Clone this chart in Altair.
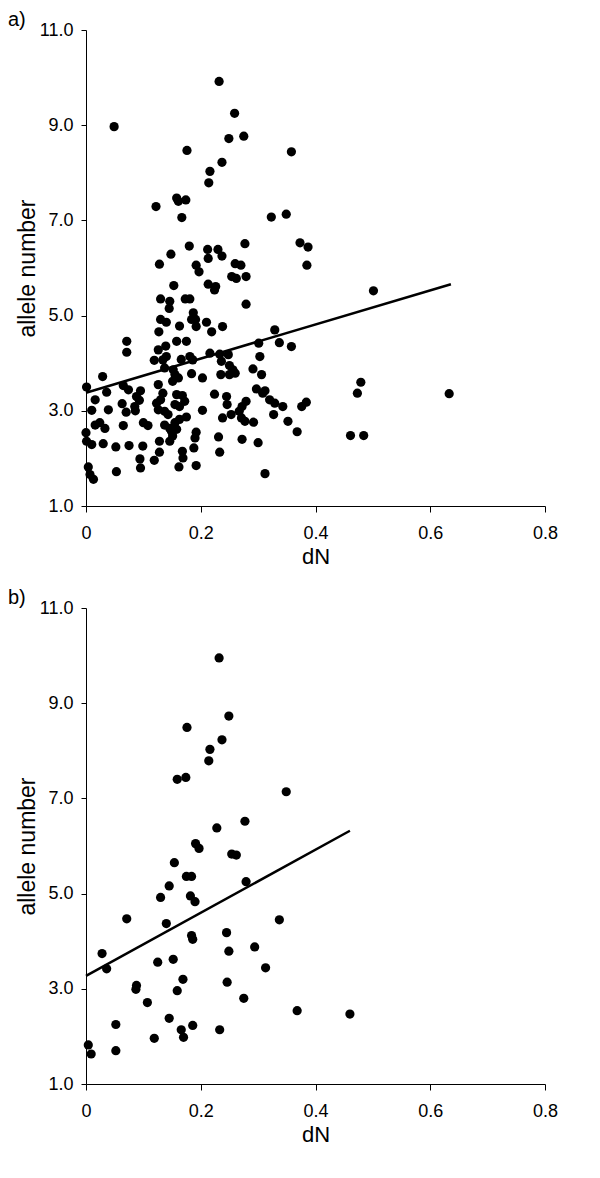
import altair as alt
import pandas as pd

# ---------------- data ----------------
a_dN = [0.232, 0.049, 0.259, 0.249, 0.275, 0.176, 0.237, 0.216, 0.214, 0.122,
        0.158, 0.161, 0.174, 0.167, 0.180, 0.148, 0.128, 0.192, 0.212, 0.213,
        0.230, 0.237, 0.260, 0.270, 0.277, 0.323, 0.358, 0.349, 0.373, 0.387,
        0.385, 0.197, 0.213, 0.226, 0.224, 0.254, 0.262, 0.279, 0.153, 0.130,
        0.146, 0.145, 0.173, 0.181, 0.279, 0.187, 0.191, 0.184, 0.130, 0.140,
        0.127, 0.163, 0.192, 0.210, 0.219, 0.238, 0.071, 0.071, 0.158, 0.175,
        0.126, 0.139, 0.119, 0.140, 0.134, 0.166, 0.181, 0.186, 0.216, 0.233,
        0.248, 0.236, 0.203, 0.184, 0.137, 0.152, 0.155, 0.161, 0.151, 0.250,
        0.256, 0.235, 0.250, 0.260, 0.291, 0.306, 0.303, 0.301, 0.329, 0.337,
        0.358, 0.029, 0.001, 0.065, 0.074, 0.036, 0.095, 0.088, 0.093, 0.126,
        0.134, 0.130, 0.158, 0.168, 0.172, 0.155, 0.163, 0.224, 0.245, 0.246,
        0.279, 0.272, 0.297, 0.308, 0.312, 0.320, 0.329, 0.343, 0.327, 0.352,
        0.368, 0.016, 0.010, 0.039, 0.063, 0.070, 0.086, 0.085, 0.123, 0.126,
        0.137, 0.143, 0.203, 0.016, 0.024, 0.033, 0.065, 0.100, 0.108, 0.137,
        0.146, 0.155, 0.163, 0.175, 0.149, 0.151, 0.146, 0.158, 0.192, 0.190,
        0.253, 0.238, 0.267, 0.271, 0.277, 0.292, 0.000, 0.001, 0.010, 0.030,
        0.052, 0.075, 0.099, 0.128, 0.231, 0.272, 0.300, 0.168, 0.169, 0.188,
        0.128, 0.119, 0.233, 0.094, 0.095, 0.162, 0.192, 0.004, 0.007, 0.013,
        0.053, 0.312, 0.501, 0.376, 0.384, 0.461, 0.484, 0.473, 0.479, 0.633]
a_allele = [9.92, 8.97, 9.25, 8.72, 8.77, 8.47, 8.22, 8.03, 7.79, 7.29,
            7.47, 7.40, 7.43, 7.06, 6.46, 6.29, 6.08, 6.06, 6.39, 6.20,
            6.39, 6.25, 6.09, 6.06, 6.51, 7.07, 8.44, 7.13, 6.53, 6.44,
            6.06, 5.92, 5.66, 5.61, 5.54, 5.82, 5.78, 5.82, 5.63, 5.35,
            5.30, 5.15, 5.35, 5.35, 5.24, 5.06, 4.92, 4.92, 4.92, 4.86,
            4.66, 4.78, 4.77, 4.86, 4.66, 4.77, 4.46, 4.23, 4.46, 4.46,
            4.28, 4.36, 4.06, 4.14, 4.07, 4.08, 4.14, 4.07, 4.21, 4.19,
            4.18, 4.04, 3.69, 3.78, 3.90, 3.86, 3.76, 3.69, 3.62, 3.95,
            3.86, 3.76, 3.76, 3.79, 3.88, 3.76, 4.14, 4.42, 4.70, 4.43,
            4.35, 3.72, 3.50, 3.53, 3.44, 3.39, 3.42, 3.30, 3.22, 3.55,
            3.37, 3.23, 3.34, 3.32, 3.20, 3.13, 3.09, 3.35, 3.30, 3.13,
            3.20, 3.09, 3.46, 3.37, 3.42, 3.23, 3.16, 3.09, 2.92, 2.78,
            2.56, 3.23, 3.01, 3.02, 3.15, 2.97, 3.00, 3.09, 3.16, 3.02,
            2.99, 2.92, 3.01, 2.70, 2.75, 2.63, 2.69, 2.75, 2.69, 2.70,
            2.63, 2.75, 2.82, 2.87, 2.57, 2.47, 2.36, 2.61, 2.55, 2.43,
            2.92, 2.85, 2.99, 2.85, 2.78, 2.76, 2.54, 2.36, 2.29, 2.31,
            2.24, 2.27, 2.26, 2.36, 2.45, 2.40, 2.33, 2.15, 2.01, 2.22,
            2.13, 1.96, 2.13, 1.99, 1.80, 1.82, 1.85, 1.82, 1.66, 1.56,
            1.72, 1.68, 5.52, 3.09, 3.18, 2.48, 2.48, 3.37, 3.60, 3.36]

b_dN = [0.232, 0.249, 0.176, 0.237, 0.216, 0.214, 0.159, 0.174, 0.349, 0.277,
        0.228, 0.191, 0.197, 0.154, 0.254, 0.262, 0.175, 0.184, 0.145, 0.279,
        0.130, 0.182, 0.190, 0.071, 0.140, 0.184, 0.186, 0.245, 0.249, 0.337,
        0.294, 0.313, 0.028, 0.036, 0.125, 0.152, 0.169, 0.246, 0.088, 0.087,
        0.159, 0.107, 0.275, 0.145, 0.186, 0.052, 0.166, 0.170, 0.233, 0.119,
        0.004, 0.009, 0.052, 0.368, 0.460]
b_allele = [9.95, 8.73, 8.49, 8.23, 8.03, 7.79, 7.40, 7.44, 7.14, 6.52,
            6.38, 6.05, 5.95, 5.65, 5.83, 5.81, 5.36, 5.36, 5.16, 5.25,
            4.92, 4.95, 4.83, 4.47, 4.37, 4.12, 4.04, 4.18, 3.79, 4.45,
            3.88, 3.44, 3.74, 3.42, 3.56, 3.62, 3.20, 3.14, 3.07, 2.99,
            2.96, 2.71, 2.80, 2.38, 2.23, 2.25, 2.14, 1.98, 2.14, 1.96,
            1.82, 1.63, 1.70, 2.54, 2.47]

# regression lines (end points)
a_fit_dN = [0.0, 0.636]
a_fit_allele = [3.38, 5.66]
b_fit_dN = [0.0, 0.46]
b_fit_allele = [3.27, 6.32]

panel_labels = ["a)", "b)"]
x_ticks = [0, 0.2, 0.4, 0.6, 0.8]
y_ticks = [1, 3, 5, 7, 9, 11]

FONT = "Liberation Sans"


def panel(dn, al, fdn, fal, label):
    x = alt.X(
        "dN:Q",
        scale=alt.Scale(domain=[0, 0.8], nice=False, zero=False),
        axis=alt.Axis(
            values=x_ticks,
            labelExpr="datum.value == 0 ? '0' : format(datum.value, '.1f')",
            title="dN",
            tickSize=6,
            labelPadding=12,
            titlePadding=4,
            labelFontSize=18,
            titleFontSize=22,
            labelFlush=False,
        ),
    )
    y = alt.Y(
        "allele:Q",
        scale=alt.Scale(domain=[1, 11], nice=False, zero=False),
        axis=alt.Axis(
            values=y_ticks,
            format=".1f",
            title="allele number",
            tickSize=5,
            labelPadding=8,
            titlePadding=0,
            labelFontSize=18,
            titleFontSize=23,
        ),
    )
    pts = (
        alt.Chart(pd.DataFrame({"dN": dn, "allele": al}))
        .mark_circle(size=85, color="black", opacity=1)
        .encode(x=x, y=y)
    )
    fit = (
        alt.Chart(pd.DataFrame({"dN": fdn, "allele": fal}))
        .mark_line(color="black", strokeWidth=2.5)
        .encode(x=x, y=y)
    )
    lab = (
        alt.Chart(pd.DataFrame({"label": [label]}))
        .mark_text(align="left", baseline="alphabetic", fontSize=20,
                   font=FONT, color="black")
        .encode(x=alt.value(-78), y=alt.value(-4), text="label:N")
    )
    return alt.layer(pts, fit, lab).properties(width=459, height=476)


top = panel(a_dN, a_allele, a_fit_dN, a_fit_allele, panel_labels[0])
bottom = panel(b_dN, b_allele, b_fit_dN, b_fit_allele, panel_labels[1])

chart = (
    alt.vconcat(top, bottom, spacing=21)
    .properties(padding={"top": 2, "left": 0, "right": 5, "bottom": 5})
    .configure_view(stroke=None)
    .configure_axis(
        grid=False,
        domainColor="black",
        domainWidth=1,
        tickColor="black",
        tickWidth=1,
        labelColor="black",
        titleColor="black",
        labelFont=FONT,
        titleFont=FONT,
        titleFontWeight="normal",
    )
)

chart.save("out.html", embed_options={"renderer": "svg", "actions": False})
